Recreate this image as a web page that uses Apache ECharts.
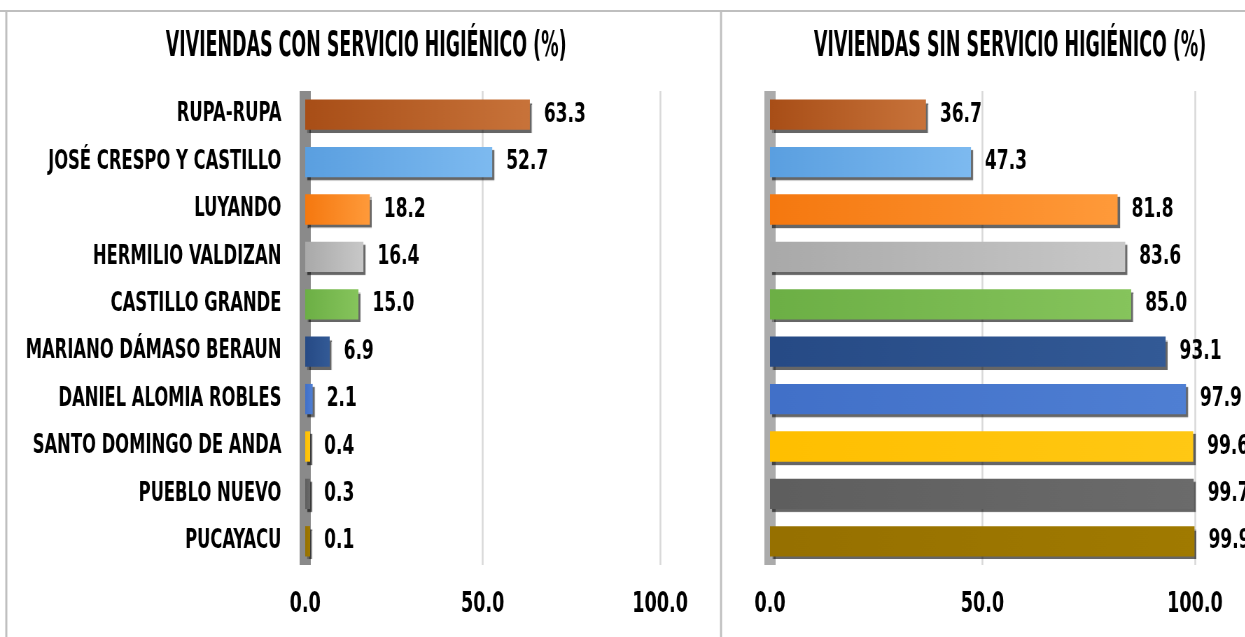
<!DOCTYPE html>
<html>
<head>
<meta charset="utf-8">
<script src="https://cdn.jsdelivr.net/npm/echarts@6/dist/echarts.min.js"></script>
<style>
  html, body { margin: 0; padding: 0; background: #fff; overflow: hidden; }
  #wrap { width: 1245px; height: 637px; overflow: hidden; }
  /* the source font is a very condensed one; none is installed, so the
     chart is drawn wide and squeezed horizontally */
  #main { width: 1779px; height: 637px; transform: scaleX(0.7); transform-origin: 0 0; }
</style>
</head>
<body>
<div id="wrap"><div id="main"></div></div>
<script>
// distritos (de arriba hacia abajo)
var districts = [
  "RUPA-RUPA", "JOSÉ CRESPO Y CASTILLO", "LUYANDO", "HERMILIO VALDIZAN",
  "CASTILLO GRANDE", "MARIANO DÁMASO BERAUN", "DANIEL ALOMIA ROBLES",
  "SANTO DOMINGO DE ANDA", "PUEBLO NUEVO", "PUCAYACU"
];
var conServicio = [63.3, 52.7, 18.2, 16.4, 15.0, 6.9, 2.1, 0.4, 0.3, 0.1];
var sinServicio = [36.7, 47.3, 81.8, 83.6, 85.0, 93.1, 97.9, 99.6, 99.7, 99.9];
var barColors = [
  ["#A84E17", "#C8733A"], ["#5A9FE0", "#7DBAF0"], ["#F5780F", "#FF9A3A"],
  ["#A9A9A9", "#C8C8C8"], ["#6CAF45", "#86C45C"], ["#264A85", "#335A96"],
  ["#4170C8", "#4F7FD3"], ["#FFBF00", "#FFC814"], ["#5E5E5E", "#6B6B6B"],
  ["#967000", "#A07A00"]
];
var titles = ["VIVIENDAS CON SERVICIO HIGIÉNICO (%)", "VIVIENDAS SIN SERVICIO HIGIÉNICO (%)"];

var FONT = "'Liberation Sans Narrow', 'DejaVu Sans Condensed', sans-serif";

function itemsOf(values) {
  return values.map(function (v, i) {
    return {
      value: v,
      itemStyle: {
        color: new echarts.graphic.LinearGradient(0, 0, 1, 0, [
          { offset: 0, color: barColors[i][0] },
          { offset: 1, color: barColors[i][1] }
        ]),
        shadowColor: "rgba(0,0,0,0.6)",
        shadowOffsetX: 3,
        shadowOffsetY: 3,
        shadowBlur: 1
      }
    };
  });
}

function xAxisOf(idx) {
  return {
    gridIndex: idx,
    type: "value",
    min: 0,
    max: 100,
    interval: 50,
    axisLine: { show: false },
    axisTick: { show: false },
    splitLine: { lineStyle: { color: "#D9D9D9", width: 2.5 } },
    axisLabel: {
      margin: 26,
      color: "#000",
      fontFamily: FONT,
      fontWeight: "bold",
      fontSize: 28,
      formatter: function (v) { return v.toFixed(1); }
    }
  };
}

function yAxisOf(idx, showLabels) {
  return {
    gridIndex: idx,
    type: "category",
    inverse: true,
    data: districts,
    axisTick: { show: false },
    axisLine: {
      show: true,
      lineStyle: { color: idx === 0 ? "#8A8A8A" : "#ABABAB", width: 16, cap: "butt" }
    },
    axisLabel: {
      show: showLabels,
      margin: 34,
      color: "#000",
      fontFamily: FONT,
      fontWeight: "bold",
      fontSize: 26
    }
  };
}

function seriesOf(idx, values) {
  return {
    type: "bar",
    xAxisIndex: idx,
    yAxisIndex: idx,
    data: itemsOf(values),
    barCategoryGap: "36%",
    barMinHeight: 7,
    label: {
      show: true,
      position: "right",
      distance: 20,
      color: "#000",
      fontFamily: FONT,
      fontWeight: "bold",
      fontSize: 27,
      formatter: function (p) { return p.value.toFixed(1); }
    }
  };
}

function titleText(text, cx) {
  return {
    type: "text",
    x: cx,
    y: 47,
    scaleX: 0.79,
    style: {
      text: text,
      fill: "#000",
      fontFamily: FONT,
      fontWeight: "bold",
      fontSize: 35,
      textAlign: "center",
      textVerticalAlign: "middle"
    }
  };
}

var chart = echarts.init(document.getElementById("main"));
chart.setOption({
  backgroundColor: "#fff",
  animation: false,
  graphic: [
    { type: "line", shape: { x1: 0, y1: 11, x2: 1779, y2: 11 }, style: { stroke: "#BFBFBF", lineWidth: 2 } },
    { type: "line", shape: { x1: 9, y1: 11, x2: 9, y2: 637 }, style: { stroke: "#BFBFBF", lineWidth: 3 } },
    { type: "line", shape: { x1: 1030, y1: 11, x2: 1030, y2: 637 }, style: { stroke: "#BFBFBF", lineWidth: 3 } },
    titleText(titles[0], 523),
    titleText(titles[1], 1443)
  ],
  grid: [
    { left: 436, width: 507, top: 91, height: 474, outerBoundsMode: "none", containLabel: false },
    { left: 1100, width: 607, top: 91, height: 474, outerBoundsMode: "none", containLabel: false }
  ],
  xAxis: [xAxisOf(0), xAxisOf(1)],
  yAxis: [yAxisOf(0, true), yAxisOf(1, false)],
  series: [seriesOf(0, conServicio), seriesOf(1, sinServicio)]
});
</script>
</body>
</html>
